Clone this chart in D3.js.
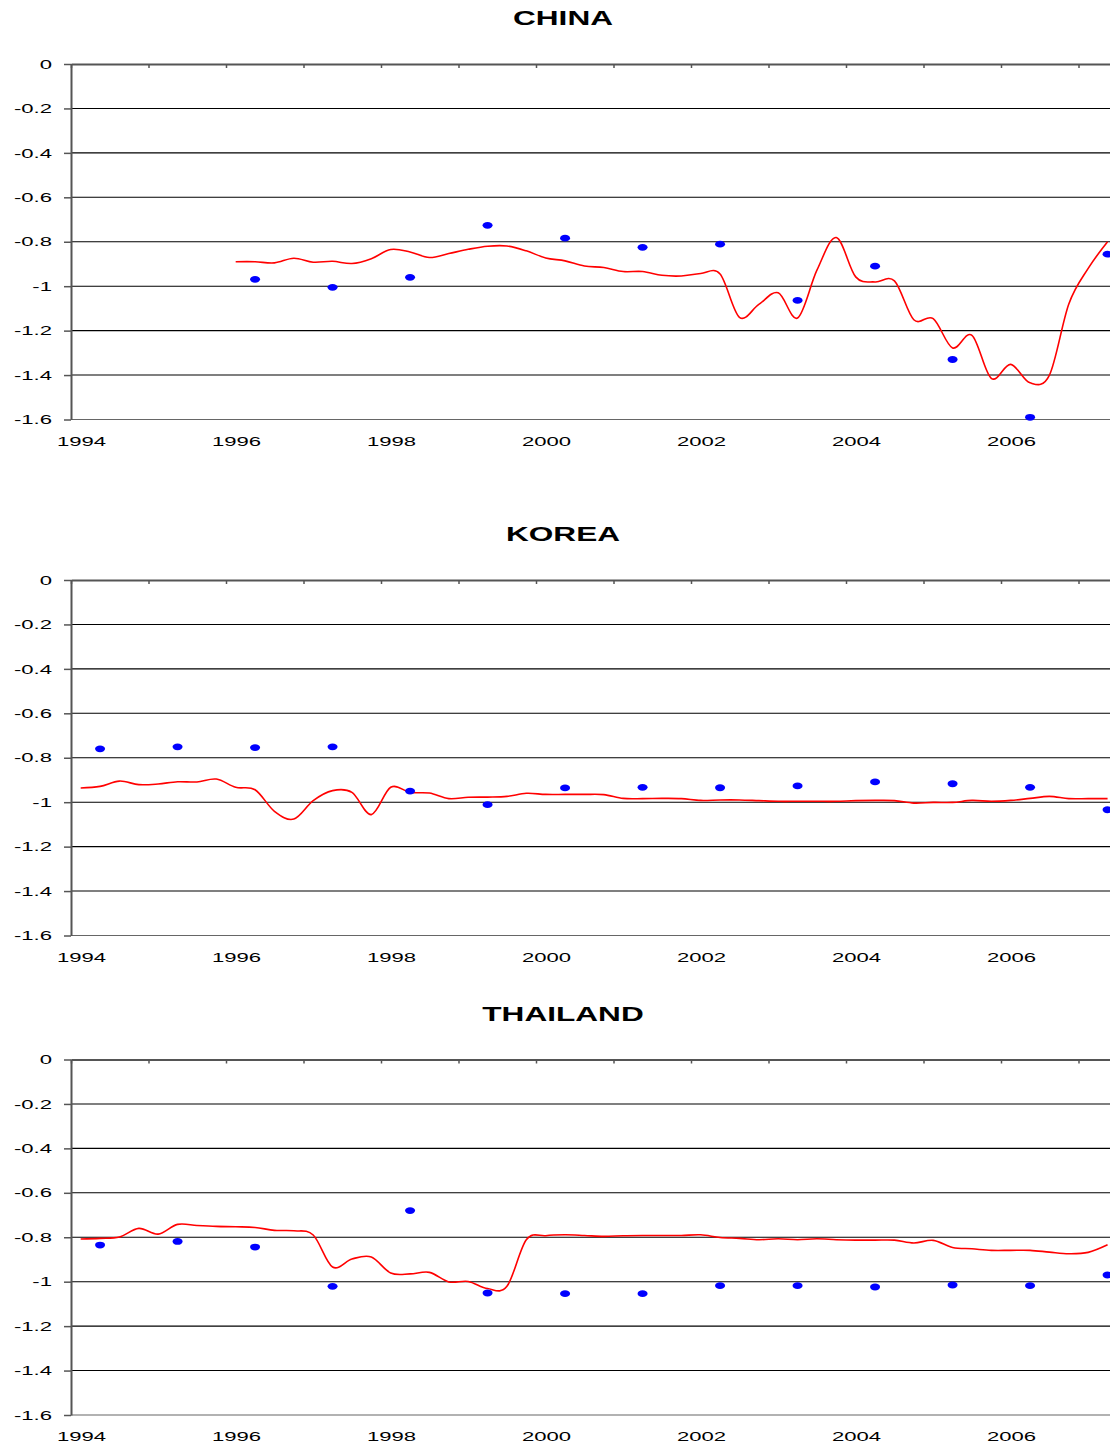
<!DOCTYPE html>
<html>
<head>
<meta charset="utf-8">
<script src="https://cdn.jsdelivr.net/npm/d3@7"></script>
<style>
  body { margin: 0; background: #fff; }
  svg { display: block; }
  text { font-family: "Liberation Sans", Arial, sans-serif; fill: #000; }
</style>
</head>
<body>
<svg id="chart" width="1110" height="1447"></svg>
<script>
// yearly observations (blue dots), one per year, plotted mid-May
var dotYears = [1994, 1995, 1996, 1997, 1998, 1999, 2000, 2001, 2002, 2003, 2004, 2005, 2006, 2007];
var chinaDots = [null, null, -0.969, -1.005, -0.96, -0.726, -0.784, -0.825, -0.811, -1.064, -0.91, -1.33, -1.59, -0.856];
var koreaDots = [-0.76, -0.751, -0.754, -0.751, -0.95, -1.011, -0.936, -0.933, -0.935, -0.927, -0.909, -0.917, -0.933, -1.034];
var thaiDots = [-0.835, -0.819, -0.844, -1.021, -0.68, -1.051, -1.054, -1.054, -1.018, -1.018, -1.024, -1.015, -1.018, -0.97];

// quarterly series (red line), Feb/May/Aug/Nov
var chinaStart = 1996;
var chinaLine = [-0.89, -0.89, -0.895, -0.874, -0.892, -0.888, -0.898, -0.876,
  -0.835, -0.846, -0.871, -0.853, -0.834, -0.82, -0.819, -0.841,
  -0.873, -0.886, -0.909, -0.916, -0.934, -0.934, -0.951, -0.954,
  -0.943, -0.945, -1.14, -1.082, -1.03, -1.143, -0.928, -0.781,
  -0.958, -0.981, -0.976, -1.151, -1.146, -1.278, -1.221, -1.415,
  -1.352, -1.435, -1.40, -1.08, -0.92, -0.8];
var koreaStart = 1994;
var koreaLine = [-0.936, -0.929, -0.905, -0.921, -0.918, -0.908, -0.909, -0.896,
  -0.933, -0.944, -1.041, -1.076, -0.993, -0.948, -0.956, -1.056,
  -0.933, -0.956, -0.959, -0.984, -0.978, -0.977, -0.974, -0.96,
  -0.965, -0.965, -0.965, -0.966, -0.983, -0.984, -0.983, -0.984,
  -0.992, -0.99, -0.99, -0.993, -0.996, -0.996, -0.996, -0.996,
  -0.993, -0.992, -0.993, -1.004, -1.001, -1.001, -0.992, -0.996,
  -0.992, -0.983, -0.974, -0.984, -0.984, -0.984];
var thaiStart = 1994;
var thaiLine = [-0.808, -0.805, -0.799, -0.76, -0.786, -0.742, -0.747, -0.751,
  -0.753, -0.756, -0.769, -0.771, -0.79, -0.934, -0.898, -0.889,
  -0.961, -0.965, -0.958, -1.001, -0.999, -1.031, -1.021, -0.811,
  -0.793, -0.789, -0.792, -0.796, -0.793, -0.792, -0.792, -0.792,
  -0.789, -0.801, -0.805, -0.811, -0.807, -0.811, -0.807, -0.811,
  -0.813, -0.813, -0.813, -0.826, -0.814, -0.846, -0.852, -0.859,
  -0.859, -0.859, -0.867, -0.874, -0.868, -0.834];

var yTicks = [0, -0.2, -0.4, -0.6, -0.8, -1, -1.2, -1.4, -1.6];
var xLabelYears = [1994, 1996, 1998, 2000, 2002, 2004, 2006];

var panels = [
  { title: "CHINA", top: 64, dots: chinaDots, line: chinaLine, start: chinaStart },
  { title: "KOREA", top: 580, dots: koreaDots, line: koreaLine, start: koreaStart },
  { title: "THAILAND", top: 1059.5, dots: thaiDots, line: thaiLine, start: thaiStart }
];

var svg = d3.select("#chart");
var left = 71, plotH = 355.5;
var x = d3.scaleLinear().domain([1994, 2008]).range([left, left + 77.5 * 14]);
var stretch = 1.7;

panels.forEach(function(p) {
  var y = d3.scaleLinear().domain([0, -1.6]).range([p.top, p.top + plotH]);
  var g = svg.append("g");

  // title
  g.append("text")
    .attr("transform", "translate(563," + (p.top - 46) + ") scale(1.62,1)")
    .attr("text-anchor", "middle")
    .attr("dy", "0.36em")
    .style("font-size", "19.5px")
    .style("font-weight", "bold")
    .text(p.title);

  // gridlines
  g.selectAll(".grid").data(yTicks.slice(1)).enter().append("line")
    .attr("x1", left).attr("x2", 1110)
    .attr("y1", function(d){ return y(d); })
    .attr("y2", function(d){ return y(d); })
    .attr("stroke", function(d){ return d === -1.6 ? "#666" : "#000"; })
    .attr("stroke-width", 1.1);

  // y axis
  var yAxis = g.append("g")
    .attr("transform", "translate(" + left + ",0)")
    .call(d3.axisLeft(y).tickValues(yTicks).tickSize(7).tickSizeOuter(0)
      .tickFormat(function(d){ return String(+d.toFixed(1)); }));
  yAxis.select(".domain").attr("stroke", "#555").attr("stroke-width", 2);
  yAxis.selectAll(".tick line").attr("stroke", "#555").attr("stroke-width", 1.5);
  yAxis.selectAll(".tick text")
    .attr("x", 0)
    .attr("transform", "translate(-19,0) scale(" + stretch + ",1)")
    .style("font-size", "13px")
    .style("font-family", "'Liberation Sans', Arial, sans-serif");

  // x axis crossing at zero (top), ticks pointing down
  var years = d3.range(1994, 2009);
  var xAxis = g.append("g")
    .attr("transform", "translate(0," + p.top + ")")
    .call(d3.axisBottom(x).tickValues(years).tickSize(4).tickSizeOuter(0).tickFormat(""));
  xAxis.select(".domain").attr("stroke", "#555").attr("stroke-width", 2);
  xAxis.selectAll(".tick line").attr("stroke", "#555").attr("stroke-width", 1.5);

  // x labels at the bottom
  g.selectAll(".xl").data(xLabelYears).enter().append("text")
    .attr("transform", function(d){ return "translate(" + (x(d) + 10.5) + "," + (p.top + plotH + 21.5) + ") scale(" + stretch + ",1)"; })
    .attr("text-anchor", "middle")
    .attr("dy", "0.36em")
    .style("font-size", "13px")
    .text(function(d){ return d; });

  // red quarterly line
  var pts = p.line.map(function(v, i){ return [p.start + 0.125 + 0.25 * i, v]; });
  g.append("path")
    .datum(pts)
    .attr("fill", "none")
    .attr("stroke", "#ff0000")
    .attr("stroke-width", 1.6)
    .attr("d", d3.line()
      .x(function(d){ return x(d[0]); })
      .y(function(d){ return y(d[1]); })
      .curve(d3.curveCardinal.tension(0)));

  // blue yearly dots
  var dots = dotYears.map(function(yr, i){ return [yr + 0.375, p.dots[i]]; })
    .filter(function(d){ return d[1] !== null; });
  g.selectAll(".dot").data(dots).enter().append("ellipse")
    .attr("cx", function(d){ return x(d[0]); })
    .attr("cy", function(d){ return y(d[1]); })
    .attr("rx", 5).attr("ry", 3.4)
    .attr("fill", "#0000ff");
});
</script>
</body>
</html>
